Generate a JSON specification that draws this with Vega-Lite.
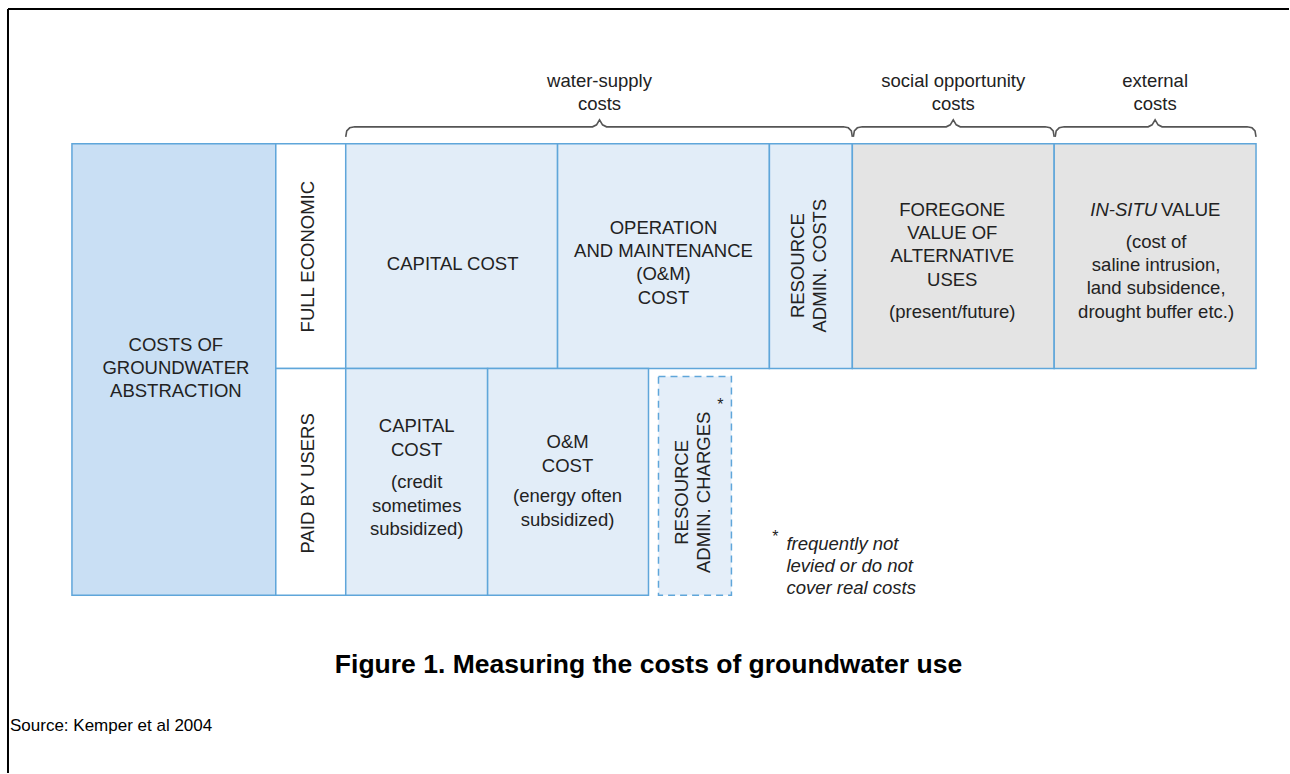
{
  "$schema": "https://vega.github.io/schema/vega-lite/v6.json",
  "autosize": {"type": "fit", "contains": "padding"},
  "width": 1290,
  "height": 774,
  "padding": 0,
  "background": "#ffffff",
  "config": {"view": {"stroke": null}, "font": "Liberation Sans"},
  "datasets": {
    "boxes": [
      {"name": "costs of groundwater abstraction", "x": 72, "x2": 276, "y": 144, "y2": 596, "kind": "main"},
      {"name": "full economic", "x": 276, "x2": 346, "y": 144, "y2": 369, "kind": "label"},
      {"name": "paid by users", "x": 276, "x2": 346, "y": 369, "y2": 596, "kind": "label"},
      {"name": "capital cost", "x": 346, "x2": 558, "y": 144, "y2": 369, "kind": "cost"},
      {"name": "o&m cost", "x": 558, "x2": 770, "y": 144, "y2": 369, "kind": "cost"},
      {"name": "resource admin costs", "x": 770, "x2": 853, "y": 144, "y2": 369, "kind": "cost"},
      {"name": "foregone value", "x": 853, "x2": 1055, "y": 144, "y2": 369, "kind": "other"},
      {"name": "in-situ value", "x": 1055, "x2": 1257, "y": 144, "y2": 369, "kind": "other"},
      {"name": "capital cost paid", "x": 346, "x2": 488, "y": 369, "y2": 596, "kind": "cost"},
      {"name": "o&m cost paid", "x": 488, "x2": 649, "y": 369, "y2": 596, "kind": "cost"}
    ],
    "dashed": [
      {"name": "resource admin charges", "x": 659, "x2": 732, "y": 377, "y2": 596}
    ],
    "frame": [
      {"x": 8, "x2": 1290, "y": 9, "y2": 9},
      {"x": 8, "x2": 8, "y": 9, "y2": 774}
    ],
    "braces": [
      {"brace": "water", "o": 1, "x": 346, "y": 137},
      {"brace": "water", "o": 2, "x": 347, "y": 131},
      {"brace": "water", "o": 3, "x": 350, "y": 128},
      {"brace": "water", "o": 4, "x": 355, "y": 127},
      {"brace": "water", "o": 5, "x": 593, "y": 127},
      {"brace": "water", "o": 6, "x": 597, "y": 125},
      {"brace": "water", "o": 7, "x": 600, "y": 120},
      {"brace": "water", "o": 8, "x": 603, "y": 125},
      {"brace": "water", "o": 9, "x": 607, "y": 127},
      {"brace": "water", "o": 10, "x": 844, "y": 127},
      {"brace": "water", "o": 11, "x": 849, "y": 128},
      {"brace": "water", "o": 12, "x": 852, "y": 131},
      {"brace": "water", "o": 13, "x": 853, "y": 137},
      {"brace": "social", "o": 1, "x": 854, "y": 137},
      {"brace": "social", "o": 2, "x": 855, "y": 131},
      {"brace": "social", "o": 3, "x": 858, "y": 128},
      {"brace": "social", "o": 4, "x": 863, "y": 127},
      {"brace": "social", "o": 5, "x": 947, "y": 127},
      {"brace": "social", "o": 6, "x": 951, "y": 125},
      {"brace": "social", "o": 7, "x": 954, "y": 120},
      {"brace": "social", "o": 8, "x": 957, "y": 125},
      {"brace": "social", "o": 9, "x": 961, "y": 127},
      {"brace": "social", "o": 10, "x": 1046, "y": 127},
      {"brace": "social", "o": 11, "x": 1051, "y": 128},
      {"brace": "social", "o": 12, "x": 1054, "y": 131},
      {"brace": "social", "o": 13, "x": 1055, "y": 137},
      {"brace": "external", "o": 1, "x": 1056, "y": 137},
      {"brace": "external", "o": 2, "x": 1057, "y": 131},
      {"brace": "external", "o": 3, "x": 1060, "y": 128},
      {"brace": "external", "o": 4, "x": 1065, "y": 127},
      {"brace": "external", "o": 5, "x": 1149, "y": 127},
      {"brace": "external", "o": 6, "x": 1153, "y": 125},
      {"brace": "external", "o": 7, "x": 1156, "y": 120},
      {"brace": "external", "o": 8, "x": 1159, "y": 125},
      {"brace": "external", "o": 9, "x": 1163, "y": 127},
      {"brace": "external", "o": 10, "x": 1248, "y": 127},
      {"brace": "external", "o": 11, "x": 1253, "y": 128},
      {"brace": "external", "o": 12, "x": 1256, "y": 131},
      {"brace": "external", "o": 13, "x": 1257, "y": 137}
    ],
    "texts": [
      {"label": "water-supply\ncosts", "x": 600, "y": 81},
      {"label": "social opportunity\ncosts", "x": 954, "y": 81},
      {"label": "external\ncosts", "x": 1156, "y": 81},
      {"label": "COSTS OF\nGROUNDWATER\nABSTRACTION", "x": 176, "y": 345},
      {"label": "CAPITAL COST", "x": 453, "y": 264},
      {"label": "OPERATION\nAND MAINTENANCE\n(O&M)\nCOST", "x": 664, "y": 228},
      {"label": "FOREGONE\nVALUE OF\nALTERNATIVE\nUSES", "x": 953, "y": 210},
      {"label": "(present/future)", "x": 953, "y": 312},
      {"label": "(cost of\nsaline intrusion,\nland subsidence,\ndrought buffer etc.)", "x": 1157, "y": 242},
      {"label": "CAPITAL\nCOST", "x": 417, "y": 427},
      {"label": "(credit\nsometimes\nsubsidized)", "x": 417, "y": 483},
      {"label": "O&M\nCOST", "x": 568, "y": 443},
      {"label": "(energy often\nsubsidized)", "x": 568, "y": 497}
    ],
    "rotated": [
      {"label": "FULL ECONOMIC", "x": 308, "y": 257},
      {"label": "PAID BY USERS", "x": 308, "y": 484},
      {"label": "RESOURCE\nADMIN. COSTS", "x": 799, "y": 266},
      {"label": "RESOURCE\nADMIN. CHARGES", "x": 683, "y": 493}
    ],
    "italicRight": [
      {"label": "IN-SITU", "x": 1158, "y": 210}
    ],
    "italicLeft": [
      {"label": "frequently not\nlevied or do not\ncover real costs", "x": 787, "y": 545}
    ],
    "plain": [
      {"label": "VALUE", "x": 1162, "y": 210}
    ],
    "stars": [
      {"label": "*", "x": 721, "y": 406},
      {"label": "*", "x": 776, "y": 538}
    ],
    "title": [
      {"label": "Figure 1. Measuring the costs of groundwater use", "x": 649, "y": 666}
    ],
    "source": [
      {"label": "Source: Kemper et al 2004", "x": 10, "y": 727}
    ]
  },
  "encoding": {
    "x": {"field": "x", "type": "quantitative", "scale": {"domain": [0, 1290], "nice": false, "zero": false}, "axis": null},
    "y": {"field": "y", "type": "quantitative", "scale": {"domain": [0, 774], "nice": false, "zero": false, "reverse": true}, "axis": null}
  },
  "layer": [
    {
      "data": {"name": "frame"},
      "mark": {"type": "rule", "color": "#000000", "strokeWidth": 2},
      "encoding": {"x2": {"field": "x2"}, "y2": {"field": "y2"}}
    },
    {
      "data": {"name": "boxes"},
      "mark": {"type": "rect", "stroke": "#5fa6da", "strokeWidth": 1.5},
      "encoding": {
        "x2": {"field": "x2"},
        "y2": {"field": "y2"},
        "fill": {"field": "kind", "type": "nominal", "legend": null,
          "scale": {"domain": ["main", "label", "cost", "other"], "range": ["#c9dff4", "#ffffff", "#e2edf8", "#e4e4e4"]}}
      }
    },
    {
      "data": {"name": "dashed"},
      "mark": {"type": "rect", "fill": "#e4eef9", "stroke": "#5fa6da", "strokeWidth": 1.5, "strokeDash": [7, 5]},
      "encoding": {"x2": {"field": "x2"}, "y2": {"field": "y2"}}
    },
    {
      "data": {"name": "braces"},
      "mark": {"type": "line", "color": "#555555", "strokeWidth": 1.6},
      "encoding": {"detail": {"field": "brace"}, "order": {"field": "o", "type": "quantitative"}}
    },
    {
      "data": {"name": "texts"},
      "mark": {"type": "text", "fontSize": 18.5, "color": "#222222", "lineBreak": "\n", "lineHeight": 23.3, "align": "center", "baseline": "middle"},
      "encoding": {"text": {"field": "label"}}
    },
    {
      "data": {"name": "rotated"},
      "mark": {"type": "text", "fontSize": 18.5, "color": "#222222", "lineBreak": "\n", "lineHeight": 22, "align": "center", "baseline": "middle", "angle": 270},
      "encoding": {"text": {"field": "label"}}
    },
    {
      "data": {"name": "italicRight"},
      "mark": {"type": "text", "fontSize": 18.5, "fontStyle": "italic", "color": "#222222", "align": "right", "baseline": "middle"},
      "encoding": {"text": {"field": "label"}}
    },
    {
      "data": {"name": "italicLeft"},
      "mark": {"type": "text", "fontSize": 18.5, "fontStyle": "italic", "color": "#222222", "lineBreak": "\n", "lineHeight": 22, "align": "left", "baseline": "middle"},
      "encoding": {"text": {"field": "label"}}
    },
    {
      "data": {"name": "plain"},
      "mark": {"type": "text", "fontSize": 18.5, "color": "#222222", "align": "left", "baseline": "middle"},
      "encoding": {"text": {"field": "label"}}
    },
    {
      "data": {"name": "stars"},
      "mark": {"type": "text", "fontSize": 16, "color": "#222222", "align": "center", "baseline": "middle"},
      "encoding": {"text": {"field": "label"}}
    },
    {
      "data": {"name": "title"},
      "mark": {"type": "text", "fontSize": 26.5, "fontWeight": "bold", "color": "#000000", "align": "center", "baseline": "middle"},
      "encoding": {"text": {"field": "label"}}
    },
    {
      "data": {"name": "source"},
      "mark": {"type": "text", "fontSize": 17, "color": "#000000", "align": "left", "baseline": "middle"},
      "encoding": {"text": {"field": "label"}}
    }
  ]
}
